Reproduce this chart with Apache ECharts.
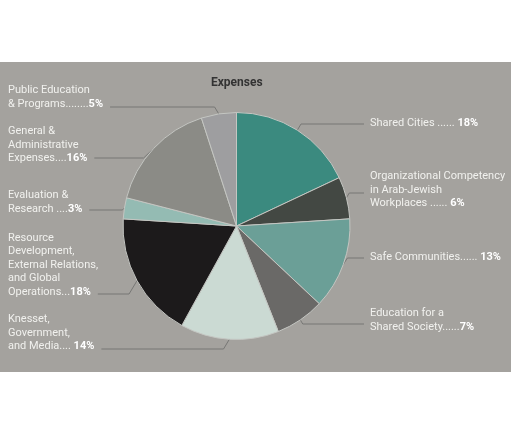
<!DOCTYPE html>
<html>
<head>
<meta charset="utf-8">
<script src="https://cdn.jsdelivr.net/npm/echarts@6/dist/echarts.min.js"></script>
<style>
html, body { margin: 0; padding: 0; background: #fff; }
#chart { width: 511px; height: 435px; }
</style>
</head>
<body>
<div id="chart"></div>
<script>
// label text before the bold percentage, clockwise from 12 o'clock
const categories = [
    'Shared Cities ...... ',
    'Organizational Competency\nin Arab-Jewish\nWorkplaces ...... ',
    'Safe Communities...... ',
    'Education for a\nShared Society......',
    'Knesset,\nGovernment,\nand Media.... ',
    'Resource\nDevelopment,\nExternal Relations,\nand Global\nOperations...',
    'Evaluation &\nResearch ....',
    'General &\nAdministrative\nExpenses....',
    'Public Education\n& Programs........'
];
const shares = [18, 6, 13, 7, 14, 18, 3, 16, 5];
const colors = ['#3b8a7f', '#434843', '#6b9f97', '#6a6967', '#cbdad3', '#1c1a1b', '#94bbb3', '#8b8b86', '#9e9ea0'];

// layout
const CX = 236.5, CY = 226, R = 113.5;
const LEFT_X = 8, RIGHT_X = 370;
const FONT = 'Roboto';
const FONT_SIZE = 11;
const labelMidY = [123, 190, 257, 320, 333, 265, 202, 145, 97];
const lineY = [124, 193, 258, 324, 349, 294, 210, 158, 107];

const ctx = document.createElement('canvas').getContext('2d');
const lastLineWidth = i => {
    const lines = categories[i].split('\n');
    ctx.font = FONT_SIZE + 'px ' + FONT;
    let w = ctx.measureText(lines[lines.length - 1]).width;
    ctx.font = 'bold ' + FONT_SIZE + 'px ' + FONT;
    return w + ctx.measureText(shares[i] + '%').width;
};

const chart = echarts.init(document.getElementById('chart'));
chart.setOption({
    animation: false,
    graphic: [{
        type: 'rect',
        silent: true,
        z: -1,
        shape: {x: 0, y: 62, width: 511, height: 310},
        style: {fill: '#a4a29e'}
    }],
    title: {
        text: 'Expenses',
        left: 211,
        top: 77,
        padding: 0,
        textStyle: {fontFamily: FONT, fontSize: 12, fontWeight: 'bold', color: '#333333'}
    },
    series: [{
        type: 'pie',
        center: [CX, CY],
        radius: R,
        startAngle: 90,
        clockwise: true,
        avoidLabelOverlap: false,
        itemStyle: {borderColor: '#c4c6c2', borderWidth: 1},
        label: {
            show: true,
            color: '#f1f1ee',
            fontFamily: FONT,
            fontSize: FONT_SIZE,
            lineHeight: 13.5,
            formatter: p => categories[p.dataIndex] + '{b|' + p.value + '%}',
            rich: {
                b: {fontFamily: FONT, fontSize: FONT_SIZE, fontWeight: 'bold', color: '#ffffff', lineHeight: 13.5}
            }
        },
        labelLine: {
            show: true,
            length: 10,
            length2: 10,
            lineStyle: {color: '#777775', width: 1}
        },
        labelLayout: params => {
            const i = params.dataIndex;
            const p0 = params.labelLinePoints[0];
            const left = p0[0] < CX;
            const dir = left ? -1 : 1;
            const ly = lineY[i];
            const dy = ly - CY;
            const minX = Math.sqrt(Math.max(0, R * R - dy * dy)) + 2;
            const x1 = CX + dir * Math.max(Math.abs(p0[0] - CX) + Math.abs(ly - p0[1]) * 0.6, minX);
            const xEnd = left ? LEFT_X + lastLineWidth(i) + 7 : RIGHT_X - 6;
            return {
                x: left ? LEFT_X : RIGHT_X,
                y: labelMidY[i],
                align: 'left',
                verticalAlign: 'middle',
                labelLinePoints: [p0, [x1, ly], [xEnd, ly]]
            };
        },
        data: shares.map((v, i) => ({value: v, name: String(i), itemStyle: {color: colors[i]}}))
    }]
});
</script>
</body>
</html>
